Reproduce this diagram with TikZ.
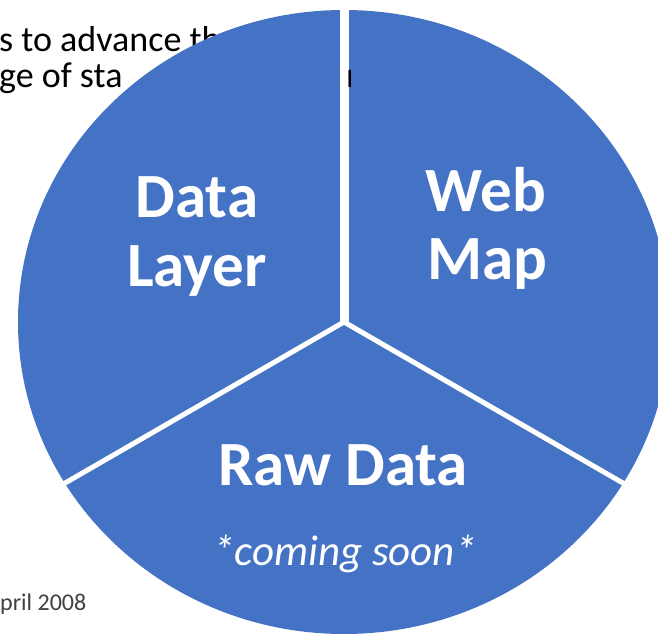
\documentclass[tikz,border=0pt]{standalone}
\usepackage{fontspec}
\setmainfont{Carlito}
\definecolor{pieblue}{HTML}{4472C4}
\definecolor{notegray}{HTML}{404040}

\begin{document}
\begin{tikzpicture}[x=1pt,y=1pt,
    bigtxt/.style={font={\fontsize{63}{75}\selectfont\bfseries}, text=white, anchor=base, inner sep=0pt},
    soontxt/.style={font={\fontsize{43}{52}\selectfont\itshape}, text=white, anchor=base, inner sep=0pt},
    bgtxt/.style={font={\fontsize{36}{43}\selectfont}, anchor=base west, inner sep=0pt},
    sepline/.style={draw=white, line width=5pt}]
    \useasboundingbox (0,0) rectangle (658,635);
    % slide text behind the chart
    \node[bgtxt] (line1) at (-1,583) {s to advance th};
    \node[bgtxt] (line2) at (-1,547) {ge of sta};
    \node[bgtxt, font={\fontsize{24}{29}\selectfont}, text=notegray] (datenote) at (0,25) {pril 2008};
    % the pie
    \coordinate (mid) at (344,313);
    \fill[pieblue] (mid) ellipse [x radius=326, y radius=312];
    \begin{scope}
        \clip (mid) ellipse [x radius=327, y radius=313];
        \draw[sepline, line width=9pt] (mid) -- ++(90:340);
        \draw[sepline] (mid) -- ++(210:380);
        \draw[sepline] (mid) -- ++(330:380);
    \end{scope}
    % text seen through the gap
    \begin{scope}
        \clip (341.5,500) rectangle (350.5,600);
        \node[bgtxt] (gapchar) at (346,547) {n};
    \end{scope}
    % slice labels
    \node[bigtxt] (data1) at (197,417) {Data};
    \node[bigtxt] (data2) at (197,348) {Layer};
    \node[bigtxt] (web1) at (486,423) {Web};
    \node[bigtxt] (web2) at (487,355) {Map};
    \node[bigtxt] (raw) at (343,150) {Raw Data};
    \node[soontxt] (soon) at (345,70) {*coming soon*};
\end{tikzpicture}
\end{document}
